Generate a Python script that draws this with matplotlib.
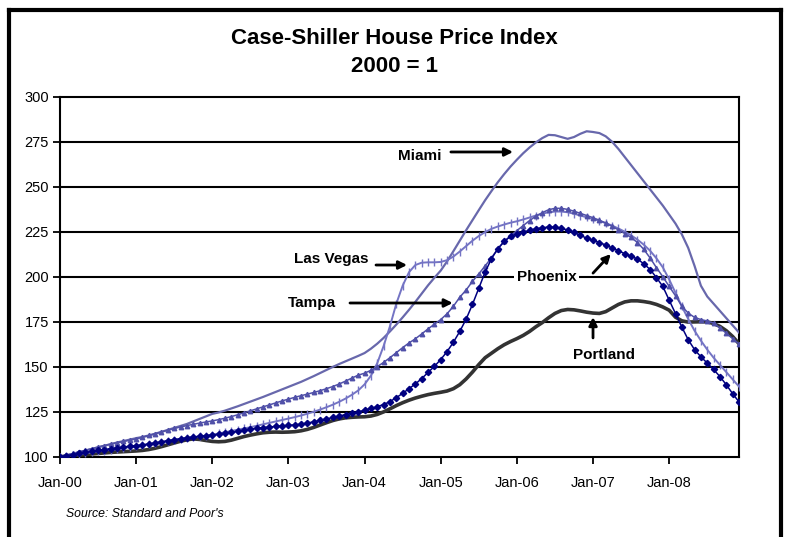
import numpy as np
import matplotlib
matplotlib.use("Agg")
import matplotlib.pyplot as plt


# indices Case-Shiller mensuels, Jan-00 a Dec-08 (2000 = 100)
miami = [
    100.0, 100.8, 101.6, 102.5, 103.4, 104.3, 105.2, 106.1, 107.0, 107.9, 108.7, 109.5,
    110.3, 111.0, 111.8, 112.8, 113.8, 114.9, 116.0, 117.1, 118.2, 119.6, 121.0, 122.4,
    123.8, 124.6, 125.6, 126.8, 128.0, 129.3, 130.6, 131.9, 133.2, 134.6, 136.0, 137.4,
    138.8, 140.2, 141.6, 143.2, 144.8, 146.5, 148.2, 149.9, 151.5, 153.0, 154.5, 156.0,
    157.6, 160.0, 162.8, 166.0, 169.6, 173.4, 177.4, 181.6, 186.0, 190.6, 195.2, 199.4,
    203.4, 208.5, 214.2, 220.0, 225.8, 231.4, 237.0, 242.5, 247.6, 252.5, 257.0, 261.2,
    265.0, 268.6, 271.8, 274.6, 277.0, 278.8, 278.6, 277.6, 276.6, 277.6, 279.4, 280.8,
    280.4, 279.8, 278.0, 275.0, 271.0, 266.5, 262.0, 257.5, 253.0, 248.5, 244.0, 239.5,
    234.5, 229.5, 223.5, 216.0, 206.0, 195.0, 189.0, 185.0, 181.0, 177.0, 173.0, 169.0,
]

las_vegas = [
    100.0, 100.4, 100.9, 101.4, 101.9, 102.4, 102.9, 103.4, 103.9, 104.4, 104.9, 105.3,
    105.8, 106.3, 106.9, 107.5, 108.1, 108.7, 109.3, 109.9, 110.4, 110.9, 111.3, 111.7,
    112.3, 112.9, 113.6, 114.3, 115.0, 115.7, 116.4, 117.2, 118.0, 118.8, 119.6, 120.4,
    121.2, 122.0, 122.9, 123.9, 125.0, 126.2, 127.5, 128.9, 130.5, 132.3, 134.4, 136.8,
    140.2, 145.0, 152.0, 161.5, 172.5, 185.0, 195.0, 202.5, 206.5, 207.8, 208.0, 208.0,
    208.2, 209.2, 211.2, 214.0, 217.0, 220.0, 222.6, 224.8, 226.6, 227.9, 229.0, 230.0,
    230.8, 231.8, 232.9, 234.0, 235.0, 235.8, 236.2, 236.2, 235.8, 235.0, 234.0, 233.0,
    232.0, 231.0, 229.8, 228.4, 226.8, 225.0, 223.0, 220.6, 217.8, 214.4, 210.2, 205.2,
    198.5, 191.0, 183.5, 176.5, 170.0, 164.5, 159.5, 155.0, 151.0, 147.0, 143.0, 139.0,
]

tampa = [
    100.0, 100.9, 101.8, 102.7, 103.6, 104.5, 105.4, 106.2, 107.0, 107.8, 108.5, 109.2,
    109.9, 110.8, 111.8, 112.8, 113.8, 114.8, 115.7, 116.5, 117.3, 118.0, 118.7, 119.3,
    119.9, 120.6, 121.4, 122.3, 123.3, 124.4, 125.5, 126.6, 127.7, 128.8, 129.9, 131.0,
    132.0, 133.0, 133.9, 134.8, 135.7, 136.7, 137.8, 139.0, 140.4, 142.0, 143.7, 145.3,
    146.4, 148.0, 150.0, 152.4, 155.0, 157.8, 160.6, 163.2, 165.5, 168.2, 171.0, 173.6,
    176.2, 179.4, 183.6, 188.6, 192.6, 197.4, 201.6, 206.0, 210.6, 215.4, 219.6, 222.8,
    225.6, 228.4, 231.2, 233.6, 235.6, 237.2, 238.0, 238.0, 237.4, 236.4, 235.2, 234.0,
    232.8, 231.4, 229.8, 228.0, 226.0, 224.0, 221.8, 219.0, 215.2, 210.4, 205.0, 200.0,
    194.6, 189.4, 183.6, 179.8, 177.4, 176.2, 175.4, 174.2, 171.6, 168.6, 165.6, 162.6,
]

phoenix = [
    100.0, 100.6, 101.2, 101.8, 102.4, 103.0, 103.5, 104.0, 104.5, 105.0, 105.4, 105.8,
    106.2, 106.6, 107.1, 107.7, 108.3, 108.9, 109.5, 110.0, 110.5, 110.9, 111.3, 111.6,
    112.0, 112.4, 112.9, 113.5, 114.1, 114.7, 115.3, 115.8, 116.2, 116.5, 116.8, 117.1,
    117.4, 117.7, 118.1, 118.7, 119.4, 120.2, 121.0, 121.8, 122.6, 123.4, 124.1, 124.8,
    126.0, 126.8, 127.8, 129.0, 130.6, 132.8, 135.2, 137.8, 140.4, 143.4, 146.8, 150.2,
    154.0, 158.4, 163.6, 169.6, 176.4, 184.6, 193.6, 202.6, 210.0, 215.6, 219.6, 222.4,
    223.8, 224.8, 225.8, 226.6, 227.2, 227.6, 227.4, 226.8, 226.0, 224.6, 223.0, 221.4,
    220.2, 219.0, 217.6, 216.0, 214.4, 212.8, 211.4, 209.8, 207.2, 204.0, 199.5, 194.6,
    187.0, 179.5, 172.0, 165.0, 159.5, 155.5, 152.0, 148.5, 144.5, 140.0, 135.0, 130.5,
]

portland = [
    100.0, 100.3, 100.6, 100.9, 101.2, 101.5, 101.8, 102.1, 102.4, 102.6, 102.8, 103.0,
    103.2, 103.5, 104.0, 104.7, 105.6, 106.6, 107.6, 108.6, 109.4, 109.9, 109.6, 109.0,
    108.5, 108.3, 108.5, 109.2, 110.2, 111.2, 112.0, 112.7, 113.3, 113.6, 113.7, 113.6,
    113.7, 113.9, 114.4, 115.2, 116.3, 117.6, 118.9, 120.1, 121.0, 121.6, 121.9, 122.1,
    122.2, 122.6, 123.5, 124.9, 126.6, 128.4, 130.0, 131.4, 132.6, 133.6, 134.5, 135.2,
    135.8, 136.5, 137.8, 140.0, 143.2, 147.0, 151.2, 155.0, 157.5, 160.0, 162.2, 164.0,
    165.6, 167.4, 169.6, 172.2, 174.5, 177.2, 179.6, 181.2, 181.8, 181.6, 181.0, 180.3,
    179.8, 179.6, 180.6, 182.6, 184.6, 186.0, 186.6, 186.6, 186.2, 185.6, 184.6, 183.2,
    181.4, 177.5, 175.5, 174.8, 174.9, 175.0, 174.9, 174.0, 172.4, 170.0, 166.8, 162.8,
]

tick_labels = ["Jan-00", "Jan-01", "Jan-02", "Jan-03", "Jan-04",
               "Jan-05", "Jan-06", "Jan-07", "Jan-08"]
y_ticks = [100, 125, 150, 175, 200, 225, 250, 275, 300]


plt.rcParams['font.family'] = ['Liberation Sans', 'DejaVu Sans']

fig = plt.figure(figsize=(7.89, 5.37), dpi=100)
ax = fig.add_axes([0.0760, 0.1495, 0.8606, 0.6704])

months = np.arange(len(miami))

# series
ax.plot(months, portland, color='#333333', lw=2.6, zorder=3)
ax.plot(months, miami, color='#6868AC', lw=1.6, zorder=4)
ax.plot(months, las_vegas, color='#7474C4', lw=1.4, marker='|', ms=6, mew=1.0, zorder=4)
ax.plot(months, tampa, color='#5050A8', lw=1.1, marker='^', ms=3.2, zorder=5)
ax.plot(months, phoenix, color='#000080', lw=1.1, marker='D', ms=3.2, zorder=6)

# axes
ax.set_xlim(0, len(miami) - 1)
ax.set_ylim(100, 300)
ax.set_yticks(y_ticks)
ax.set_xticks(np.arange(0, len(miami), 12))
ax.set_xticklabels(tick_labels)
for y in y_ticks[1:-1]:
    ax.axhline(y, color='black', lw=1.5, zorder=1)
for side in ['left', 'right', 'top', 'bottom']:
    ax.spines[side].set_linewidth(1.5)
ax.tick_params(axis='both', direction='out', length=5, width=1.3, labelsize=10.5, pad=3)
ax.tick_params(axis='x', pad=9)

# annotations
arrow = dict(arrowstyle='-|>', color='black', lw=2, mutation_scale=12, shrinkA=0, shrinkB=0)
lbl = dict(fontsize=11, fontweight='bold', ha='center', va='center', zorder=8)

ax.text(56.7, 267.0, 'Miami', **lbl)
ax.annotate('', xy=(71.4, 269.3), xytext=(61.6, 269.3), arrowprops=arrow, zorder=8)

ax.text(42.7, 209.8, 'Las Vegas', **lbl)
ax.annotate('', xy=(54.7, 206.5), xytext=(49.8, 206.5), arrowprops=arrow, zorder=8)

ax.text(39.7, 185.4, 'Tampa', **lbl)
ax.annotate('', xy=(61.9, 185.4), xytext=(45.7, 185.4), arrowprops=arrow, zorder=8)

ax.text(76.7, 199.8, 'Phoenix', bbox=dict(facecolor='white', edgecolor='none', pad=2), **lbl)
ax.annotate('', xy=(86.8, 212.6), xytext=(84.0, 202.0), arrowprops=arrow, zorder=8)

ax.text(85.7, 156.5, 'Portland', **lbl)
ax.annotate('', xy=(84.0, 177.6), xytext=(84.0, 166.0), arrowprops=arrow, zorder=8)

# titre et source
fig.text(0.5, 1 - 38 / 537, 'Case-Shiller House Price Index', ha='center', va='center',
         fontsize=16, fontweight='bold')
fig.text(0.5, 1 - 66 / 537, '2000 = 1', ha='center', va='center',
         fontsize=16, fontweight='bold')
fig.text(66 / 789, 1 - 514 / 537, "Source: Standard and Poor's", ha='left', va='center',
         fontsize=8.8, style='italic')

# cadre noir autour du graphique (ouvert en bas)
fig.add_artist(plt.Line2D([9 / 789, 9 / 789], [0, 1 - 10 / 537], color='black', lw=3))
fig.add_artist(plt.Line2D([9 / 789, 781 / 789], [1 - 10 / 537, 1 - 10 / 537], color='black', lw=3))
fig.add_artist(plt.Line2D([781 / 789, 781 / 789], [0, 1 - 10 / 537], color='black', lw=3))

fig.savefig('out.png', dpi=100)
